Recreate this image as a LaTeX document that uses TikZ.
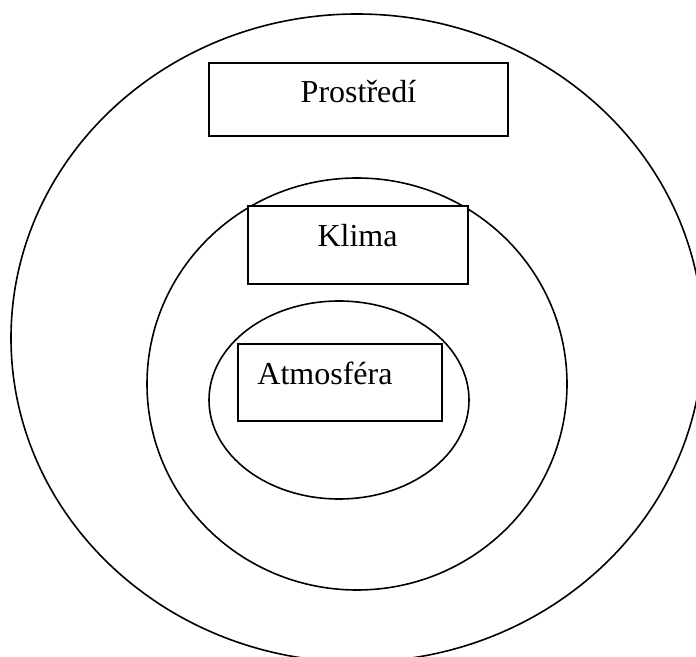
\documentclass[tikz,border=0pt]{standalone}
\usepackage{fontspec}
\setmainfont{Liberation Serif}
\begin{document}
\begin{tikzpicture}[x=0.5pt,y=-0.5pt,
  ring/.style={draw, line width=0.8pt},
  box/.style={draw, fill=white, line width=0.9pt, inner sep=0pt, outer sep=0pt},
  lbl/.style={font=\fontsize{16}{19}\selectfont, inner sep=0pt, anchor=base}]
\useasboundingbox (0,0) rectangle (696,657);
\clip (0,0) rectangle (696,657);
% rings
\draw[ring] (357,338) ellipse [x radius=173pt, y radius=162pt];
\draw[ring] (357,384) ellipse [x radius=105pt, y radius=103pt];
\draw[ring] (339,400) ellipse [x radius=65pt, y radius=49.5pt];
% boxes
\node[box, minimum width=149.5pt, minimum height=36.5pt] (prostredi) at (358.5,99.5) {};
\node[box, minimum width=110pt, minimum height=39pt] (klima) at (358,245) {};
\node[box, minimum width=102pt, minimum height=38.5pt] (atmosfera) at (340,382.5) {};
% labels
\node[lbl] (tprostredi) at (358.5,103) {Prostředí};
\node[lbl] (tklima) at (357.5,247) {Klima};
\node[lbl] (tatmosfera) at (325,385) {Atmosféra};
\end{tikzpicture}
\end{document}
